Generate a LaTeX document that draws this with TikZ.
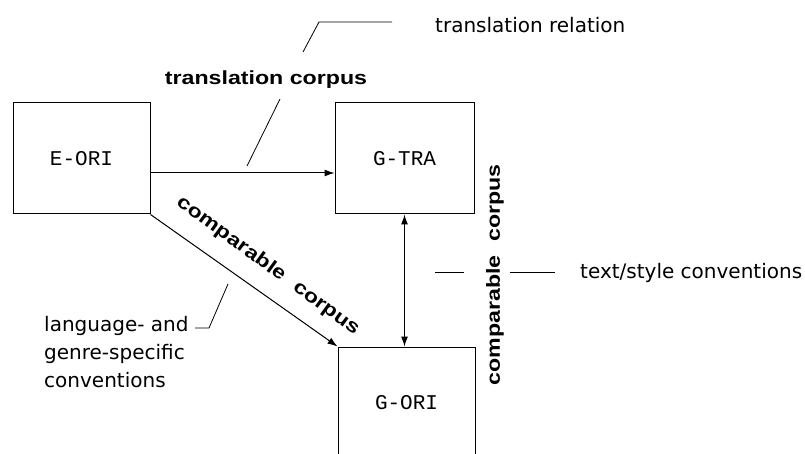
\documentclass[tikz,border=0pt]{standalone}
\usepackage{fontspec}
\usepackage{graphicx}
\setmainfont{DejaVu Sans}
\newfontfamily\boxfont{Liberation Mono}
\newfontfamily\corpfont{Liberation Sans}
\newcommand{\wide}[1]{\scalebox{1.22}[1]{#1}}
\usetikzlibrary{arrows.meta,positioning,calc}

\begin{document}
\begin{tikzpicture}[x=1pt,y=-1pt,
box/.style={draw,line width=1pt,minimum width=137pt,minimum height=111pt,inner sep=0pt,font=\boxfont\fontsize{21}{21}\selectfont},
arr/.style={line width=1pt,-{Latex[length=10pt,width=7pt]}},
dbl/.style={line width=1pt,{Latex[length=10pt,width=7pt]}-{Latex[length=10pt,width=7pt]}},
lead/.style={line width=0.8pt},
corp/.style={inner sep=0pt,font=\corpfont\bfseries\fontsize{19}{19}\selectfont},
note/.style={inner sep=0pt,font=\fontsize{20}{28}\selectfont,align=left}]
\useasboundingbox (0,0) rectangle (805,454);
\clip (0,0) rectangle (805,454);
% the three corpora
\node[box] (eori) at (81.5,158.5) {E-ORI};
\node[box,minimum width=139pt] (gtra) at (404.5,158.5) {G-TRA};
\node[box] (gori) at (406.5,402.5) {G-ORI};
% relations
\coordinate (t0) at ([yshift=-14.5pt]eori.east);
\draw[arr] (t0) -- (t0 -| gtra.west);
\draw[arr] (eori.south east) -- (gori.north west);
\draw[dbl] (gtra.south) -- (gtra.south |- gori.north);
\node[corp] (tc) at (266,80) {\wide{translation corpus}};
\node[corp,rotate=-36] (cc1) at (268,266) {\wide{comparable\hspace{6pt} corpus}};
\node[corp,rotate=90] (cc2) at (495,275) {\wide{comparable\hspace{6pt} corpus}};
% notes and their leaders
\coordinate (r0) at (247,166);
\coordinate (r1) at (280,99);
\coordinate (r2) at (303,52);
\coordinate (r3) at (319,22);
\coordinate (r4) at (392,22);
\draw[lead] (r0) -- (r1) (r2) -- (r3) -- (r4);
\node[note,anchor=base west] (trel) at (435,33) {translation relation};
\coordinate (s0) at (435,272);
\coordinate (s1) at (464,272);
\coordinate (s2) at (510,272);
\coordinate (s3) at (555,272);
\draw[lead] (s0) -- (s1) (s2) -- (s3);
\node[note,anchor=base west] (tsc) at (580,278) {text/style conventions};
\node[note,anchor=north west] (lgc) at (44,316) {language- and\\genre-specific\\conventions};
\coordinate (l0) at (195,328);
\coordinate (l1) at (209,328);
\coordinate (l2) at (228,284);
\draw[lead] (l0) -- (l1) -- (l2);
\end{tikzpicture}
\end{document}
